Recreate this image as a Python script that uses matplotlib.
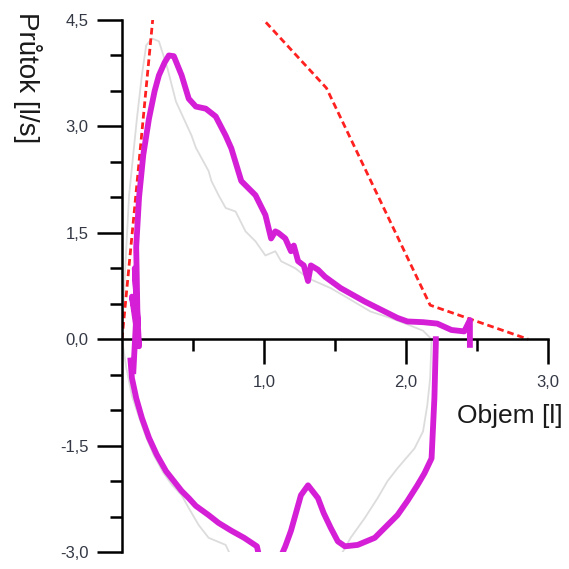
import matplotlib
matplotlib.use("Agg")
import matplotlib.pyplot as plt
from matplotlib.ticker import FixedLocator, FixedFormatter

plt.rcParams['font.family'] = ['Liberation Sans', 'DejaVu Sans']

# predicted envelope (red dashed)
pred_vol = [0.0, 0.29, 1.44, 2.17, 2.86]
pred_flow = [0.0, 6.04, 3.54, 0.48, 0.0]

# reference loop (light gray)
ref_vol = [0.0, 0.02, 0.05, 0.105, 0.14, 0.17, 0.21, 0.26, 0.32, 0.38, 0.49, 0.52,
           0.61, 0.63, 0.68, 0.73, 0.80, 0.87, 0.94, 1.01, 1.08, 1.12, 1.22, 1.31,
           1.47, 1.59, 1.75, 1.89, 2.02, 2.12, 2.18,
           2.17, 2.15, 2.12, 2.06, 1.94, 1.87, 1.80, 1.71, 1.61, 1.56, 1.45, 1.10,
           0.80, 0.73, 0.61, 0.54, 0.47, 0.42, 0.35, 0.29, 0.22, 0.17, 0.12, 0.07,
           0.03, 0.0]
ref_flow = [0.0, 0.9, 2.03, 3.11, 3.72, 4.14, 4.24, 4.20, 3.82, 3.35, 2.87, 2.70,
            2.37, 2.23, 2.03, 1.85, 1.80, 1.52, 1.38, 1.18, 1.24, 1.10, 1.00, 0.86,
            0.72, 0.58, 0.39, 0.30, 0.20, 0.12, 0.0,
            -0.55, -0.93, -1.30, -1.54, -1.82, -2.00, -2.24, -2.52, -2.80, -2.98, -3.3, -3.5,
            -3.2, -2.90, -2.80, -2.62, -2.38, -2.20, -2.05, -1.88, -1.62, -1.38, -1.10, -0.80,
            -0.40, 0.0]

# measured loop (magenta), expiration part
exp_vol = [0.08, 0.10, 0.07, 0.12, 0.09, 0.11, 0.10, 0.12, 0.15, 0.19, 0.23, 0.26,
           0.30, 0.33, 0.365, 0.42, 0.47, 0.52, 0.59, 0.66, 0.73, 0.77, 0.84, 0.94,
           1.01, 1.05, 1.08, 1.10, 1.15, 1.19, 1.21, 1.24, 1.28, 1.31, 1.33, 1.38,
           1.43, 1.54, 1.71, 1.85, 1.94, 2.01, 2.12, 2.22, 2.32, 2.41, 2.45, 2.45]
exp_flow = [-0.45, 0.30, 0.60, -0.10, 1.00, 0.20, 1.30, 2.00, 2.60, 3.11, 3.50, 3.72,
            3.90, 4.00, 3.99, 3.72, 3.39, 3.28, 3.25, 3.14, 2.87, 2.69, 2.23, 2.03,
            1.75, 1.42, 1.52, 1.50, 1.42, 1.24, 1.32, 1.10, 1.04, 0.82, 1.04, 0.98,
            0.88, 0.72, 0.53, 0.39, 0.30, 0.25, 0.24, 0.22, 0.13, 0.11, 0.27, -0.08]

# measured loop (magenta), inspiration part
insp_vol = [2.21, 2.21, 2.20, 2.18, 2.13, 2.08, 2.01, 1.94, 1.87, 1.78, 1.66,
            1.57, 1.52, 1.47, 1.42, 1.38, 1.31, 1.26, 1.19, 1.15, 1.10, 1.03, 0.97,
            0.95, 0.86, 0.77, 0.68, 0.61, 0.52, 0.47, 0.42, 0.365, 0.31, 0.245, 0.19,
            0.14, 0.10, 0.07, 0.06]
insp_flow = [0.0, -0.06, -0.83, -1.68, -1.89, -2.06, -2.28, -2.48, -2.62, -2.80, -2.90,
             -2.92, -2.85, -2.66, -2.45, -2.24, -2.06, -2.20, -2.70, -2.92, -3.15, -3.3, -3.1,
             -2.92, -2.80, -2.70, -2.59, -2.48, -2.35, -2.24, -2.14, -2.00, -1.86, -1.63, -1.39,
             -1.11, -0.83, -0.55, -0.30]

y_major = [-3.0, -1.5, 0.0, 1.5, 3.0, 4.5]
y_major_labels = ['-3,0', '-1,5', '0,0', '1,5', '3,0', '4,5']
y_minor = [-2.5, -2.0, -1.0, -0.5, 0.5, 1.0, 2.0, 2.5, 3.5, 4.0]
x_major = [1.0, 2.0, 3.0]
x_major_labels = ['1,0', '2,0', '3,0']
x_minor = [0.5, 1.5, 2.5]

fig = plt.figure(figsize=(5.69, 5.69), dpi=100)
ax = fig.add_axes([122 / 569, 17 / 569, 426 / 569, 532 / 569])

magenta = '#d41fd6'
ax.plot(ref_vol, ref_flow, color='#dcdcdc', lw=1.3, zorder=1)
ax.plot(pred_vol, pred_flow, color='#ff2020', lw=2.0, ls=(0, (2.4, 1.4)), zorder=2)
ax.plot(exp_vol, exp_flow, color=magenta, lw=4.2, solid_joinstyle='round', zorder=3)
ax.plot(insp_vol, insp_flow, color=magenta, lw=4.2, solid_joinstyle='round', zorder=3)

ax.set_xlim(0, 3.0)
ax.set_ylim(-3.0, 4.5)

for s in ['top', 'right']:
    ax.spines[s].set_visible(False)
ax.spines['bottom'].set_position(('data', 0))
ax.spines['left'].set_linewidth(1.8)
ax.spines['bottom'].set_linewidth(1.8)

ax.yaxis.set_major_locator(FixedLocator(y_major))
ax.yaxis.set_major_formatter(FixedFormatter(y_major_labels))
ax.yaxis.set_minor_locator(FixedLocator(y_minor))
ax.xaxis.set_major_locator(FixedLocator(x_major))
ax.xaxis.set_major_formatter(FixedFormatter(x_major_labels))
ax.xaxis.set_minor_locator(FixedLocator(x_minor))

ax.tick_params(which='major', direction='out', length=18, width=1.8, labelsize=12,
               labelcolor='#333844')
ax.tick_params(which='minor', direction='out', length=8.5, width=1.8)
ax.tick_params(axis='y', which='major', pad=6)
ax.tick_params(axis='x', which='major', pad=8)

fig.text(27 / 569, 1 - 12 / 569, 'Průtok [l/s]', rotation=270, ha='center', va='top',
         fontsize=20, color='#1a1a1a')
fig.text(563 / 569, 1 - 404 / 569, 'Objem [l]', ha='right', va='top',
         fontsize=19, color='#1a1a1a')

fig.savefig('out.png', dpi=100)
